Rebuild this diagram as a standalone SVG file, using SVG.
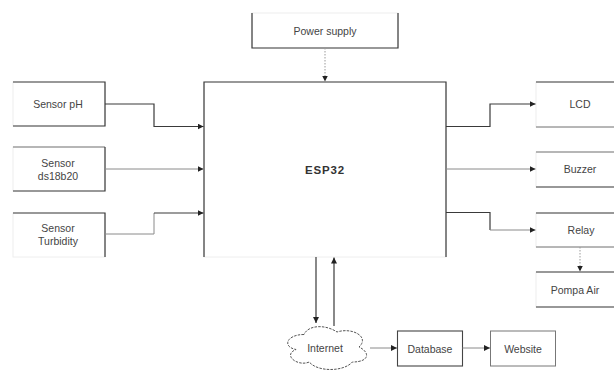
<svg xmlns="http://www.w3.org/2000/svg" width="614" height="374" viewBox="0 0 614 374">
<style>
  .faint { fill: #fff; stroke: #eeeeee; stroke-width: 1; }
  .edge { fill: none; stroke: #3a3a3a; stroke-width: 1.2; }
  .edge2 { fill: none; stroke: #777; stroke-width: 1; }
  .lbl { font-family: "Liberation Sans", Arial, sans-serif; font-size: 10.5px; fill: #444; text-anchor: middle; dominant-baseline: central; }
  .bold { font-weight: bold; font-size: 11.5px; fill: #333; letter-spacing: 0.8px; }
  .con { fill: none; stroke: #3a3a3a; stroke-width: 1.2; }
  .con2 { fill: none; stroke: #8a8a8a; stroke-width: 1; }
  .dot { fill: none; stroke: #9a9a9a; stroke-width: 1; stroke-dasharray: 1.5 1.5; }
</style>
<defs>
  <marker id="ah" viewBox="0 0 6 6" refX="6" refY="3" markerWidth="6" markerHeight="6" markerUnits="userSpaceOnUse" orient="auto">
    <path d="M0,0 L6,3 L0,6 z" fill="#222"/>
  </marker>
</defs>
<rect width="614" height="374" fill="#fff"/>

<g id="power-supply">
  <rect class="faint" x="252" y="13" width="146" height="35" stroke="none"/>
  <path class="edge" d="M252,13 V48 H398 V13"/>
  <text class="lbl" x="325" y="31">Power supply</text>
</g>

<g id="esp32">
  <rect class="faint" x="204" y="82" width="242" height="175"/>
  <path class="edge" d="M204,257 V82 H446 V257"/>
  <text class="lbl bold" x="325" y="170">ESP32</text>
</g>

<g id="sensor-ph">
  <rect class="faint" x="13" y="82" width="92" height="44"/>
  <path class="edge" d="M13,82 H105 V126 H13"/>
  <text class="lbl" x="58" y="104">Sensor pH</text>
</g>

<g id="sensor-ds18b20">
  <rect class="faint" x="13" y="147" width="92" height="44"/>
  <path class="edge2" d="M13,147 H105"/>
  <path class="edge" d="M105,147 V191 H13"/>
  <text class="lbl" x="58" y="163">Sensor</text>
  <text class="lbl" x="58" y="176">ds18b20</text>
</g>

<g id="sensor-turbidity">
  <rect class="faint" x="13" y="213" width="92" height="44" stroke="none"/>
  <path class="edge" d="M13,213 H105 V257"/>
  <text class="lbl" x="58" y="228">Sensor</text>
  <text class="lbl" x="58" y="241">Turbidity</text>
</g>

<g id="lcd">
  <rect class="faint" x="536" y="82" width="90" height="45"/>
  <path class="edge" d="M536,82 H614"/>
  <path class="edge2" d="M536,127 H614"/>
  <text class="lbl" x="580" y="104">LCD</text>
</g>

<g id="buzzer">
  <rect class="faint" x="536" y="152" width="90" height="35"/>
  <path class="edge2" d="M536,152 H614"/>
  <path class="edge" d="M536,187 H614"/>
  <text class="lbl" x="580" y="169">Buzzer</text>
</g>

<g id="relay">
  <rect class="faint" x="536" y="213" width="90" height="34"/>
  <path class="edge" d="M536,213 H614"/>
  <path class="edge2" d="M536,247 H614"/>
  <text class="lbl" x="581" y="230">Relay</text>
</g>

<g id="pompa-air">
  <rect class="faint" x="536" y="272" width="90" height="35"/>
  <path class="edge" d="M536,272 H614 M536,307 H614"/>
  <text class="lbl" x="575" y="290">Pompa Air</text>
</g>

<g id="internet">
  <path d="M304,334.5 C286.4,334.5 282,347 296.1,349.5 C282,355 297.8,367 309.3,362 C317.2,372 343.6,372 352.4,362 C370,362 370,352 359,347 C370,337 352.4,327 337,332 C326,324.5 308.4,324.5 304,334.5 Z" fill="#fff" stroke="#555" stroke-width="1" stroke-dasharray="2.5 1.2"/>
  <text class="lbl" x="325" y="348">Internet</text>
</g>

<g id="database">
  <rect x="397.5" y="331" width="65" height="35" fill="#fff" stroke="#444" stroke-width="1.1"/>
  <text class="lbl" x="430" y="348.5">Database</text>
</g>

<g id="website">
  <rect x="490.5" y="331" width="65" height="35" fill="#fff" stroke="#777" stroke-width="1"/>
  <text class="lbl" x="523" y="348.5">Website</text>
</g>

<g id="connectors">
  <path class="dot" d="M325,48 V81.5" marker-end="url(#ah)"/>
  <path class="con" d="M105,104 H154 V126.5 H203.5" marker-end="url(#ah)"/>
  <path class="con2" d="M105,169 H203.5" marker-end="url(#ah)"/>
  <path class="con2" d="M105,234 H154 V213"/>
  <path class="con" d="M154,213 H203.5" marker-end="url(#ah)"/>
  <path class="con" d="M446,126.5 H490 V104 H535.5" marker-end="url(#ah)"/>
  <path class="con2" d="M446,169 H535.5" marker-end="url(#ah)"/>
  <path class="con" d="M446,212.5 H490 V230"/>
  <path class="con2" d="M490,230 H535.5" marker-end="url(#ah)"/>
  <path class="dot" d="M580,247 V271.5" marker-end="url(#ah)"/>
  <path class="con" d="M316,257 V323" marker-end="url(#ah)"/>
  <path class="con" d="M334,326 V257.5" marker-end="url(#ah)"/>
  <path class="con2" d="M370,348 H397" marker-end="url(#ah)"/>
  <path class="con2" d="M462.5,348 H490" marker-end="url(#ah)"/>
</g>
</svg>
